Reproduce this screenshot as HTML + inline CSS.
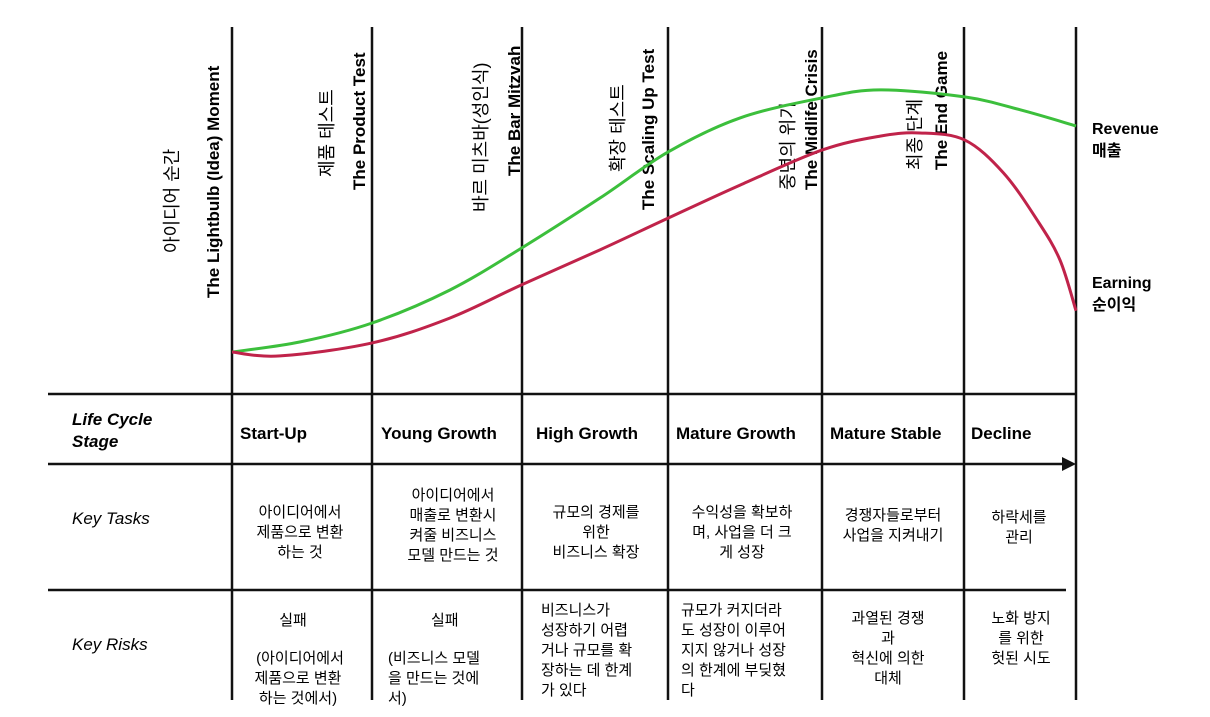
<!DOCTYPE html>
<html><head><meta charset="utf-8">
<style>
body{margin:0;background:#fff;}
svg{display:block;font-family:"Liberation Sans","Noto Sans CJK KR",sans-serif;}
.en{font-weight:bold;font-size:17px;}
.ko{font-size:18px;}
.st{font-weight:bold;font-size:17px;}
.lab{font-style:italic;font-size:17px;}
.cell{font-size:15px;}
</style></head>
<body>
<svg id="chart" width="1210" height="717" viewBox="0 0 1210 717">
  <g id="grid" stroke="#111" stroke-width="2.5" fill="none">
    <line x1="232" y1="27" x2="232" y2="700"/>
    <line x1="372" y1="27" x2="372" y2="700"/>
    <line x1="522" y1="27" x2="522" y2="700"/>
    <line x1="668" y1="27" x2="668" y2="700"/>
    <line x1="822" y1="27" x2="822" y2="700"/>
    <line x1="964" y1="27" x2="964" y2="700"/>
    <line x1="1076" y1="27" x2="1076" y2="700"/>
    <line x1="48" y1="394" x2="1076" y2="394"/>
    <line x1="48" y1="464" x2="1064" y2="464"/>
    <line x1="48" y1="590" x2="1066" y2="590"/>
  </g>
  <polygon points="1062,457 1076,464 1062,471" fill="#111"/>

  <g>
    <text class="ko" transform="translate(178,253) rotate(-90)">아이디어 순간</text>
    <text class="en" transform="translate(219,298) rotate(-90)">The Lightbulb (Idea) Moment</text>
    <text class="ko" transform="translate(333,177) rotate(-90)">제품 테스트</text>
    <text class="en" transform="translate(365,190) rotate(-90)">The Product Test</text>
    <text class="ko" transform="translate(487,212) rotate(-90)">바르 미츠바(성인식)</text>
    <text class="en" transform="translate(520,176) rotate(-90)">The Bar Mitzvah</text>
    <text class="ko" transform="translate(624,172) rotate(-90)">확장 테스트</text>
    <text class="en" transform="translate(654,210) rotate(-90)">The Scaling Up Test</text>
    <text class="ko" transform="translate(794,190) rotate(-90)">중년의 위기</text>
    <text class="en" transform="translate(817,190) rotate(-90)">The Midlife Crisis</text>
    <text class="ko" transform="translate(921,170) rotate(-90)">최종 단계</text>
    <text class="en" transform="translate(947,170) rotate(-90)">The End Game</text>
  </g>

  <g id="series"></g>

  <g font-weight="bold" font-size="16">
    <text x="1092" y="134">Revenue</text>
    <text x="1092" y="156">매출</text>
    <text x="1092" y="288">Earning</text>
    <text x="1092" y="310">순이익</text>
  </g>

  <g>
    <text class="lab" font-weight="bold" x="72" y="425">Life Cycle</text>
    <text class="lab" font-weight="bold" x="72" y="447">Stage</text>
    <text class="lab" x="72" y="524">Key Tasks</text>
    <text class="lab" x="72" y="650">Key Risks</text>
  </g>

  <g>
    <text class="st" x="240" y="439">Start-Up</text>
    <text class="st" x="381" y="439">Young Growth</text>
    <text class="st" x="536" y="439">High Growth</text>
    <text class="st" x="676" y="439">Mature Growth</text>
    <text class="st" x="830" y="439">Mature Stable</text>
    <text class="st" x="971" y="439">Decline</text>
  </g>

  <g class="cell" text-anchor="middle">
    <text><tspan x="300" y="517">아이디어에서</tspan><tspan x="300" y="537">제품으로 변환</tspan><tspan x="300" y="557">하는 것</tspan></text>
    <text><tspan x="453" y="500">아이디어에서</tspan><tspan x="453" y="520">매출로 변환시</tspan><tspan x="453" y="540">켜줄 비즈니스</tspan><tspan x="453" y="560">모델 만드는 것</tspan></text>
    <text><tspan x="596" y="517">규모의 경제를</tspan><tspan x="596" y="537">위한</tspan><tspan x="596" y="557">비즈니스 확장</tspan></text>
    <text><tspan x="742" y="517">수익성을 확보하</tspan><tspan x="742" y="537">며, 사업을 더 크</tspan><tspan x="742" y="557">게 성장</tspan></text>
    <text><tspan x="893" y="520">경쟁자들로부터</tspan><tspan x="893" y="540">사업을 지켜내기</tspan></text>
    <text><tspan x="1019" y="522">하락세를</tspan><tspan x="1019" y="542">관리</tspan></text>
  </g>

  <g class="cell">
    <text text-anchor="middle"><tspan x="293" y="625">실패</tspan><tspan x="300" y="663">(아이디어에서</tspan><tspan x="298" y="683">제품으로 변환</tspan><tspan x="298" y="703">하는 것에서)</tspan></text>
    <text><tspan x="431" y="625">실패</tspan><tspan x="388" y="663">(비즈니스 모델</tspan><tspan x="388" y="683">을 만드는 것에</tspan><tspan x="388" y="703">서)</tspan></text>
    <text><tspan x="541" y="615">비즈니스가</tspan><tspan x="541" y="635">성장하기 어렵</tspan><tspan x="541" y="655">거나 규모를 확</tspan><tspan x="541" y="675">장하는 데 한계</tspan><tspan x="541" y="695">가 있다</tspan></text>
    <text><tspan x="681" y="615">규모가 커지더라</tspan><tspan x="681" y="635">도 성장이 이루어</tspan><tspan x="681" y="655">지지 않거나 성장</tspan><tspan x="681" y="675">의 한계에 부딪혔</tspan><tspan x="681" y="695">다</tspan></text>
    <text text-anchor="middle"><tspan x="888" y="623">과열된 경쟁</tspan><tspan x="888" y="643">과</tspan><tspan x="888" y="663">혁신에 의한</tspan><tspan x="888" y="683">대체</tspan></text>
    <text text-anchor="middle"><tspan x="1021" y="623">노화 방지</tspan><tspan x="1021" y="643">를 위한</tspan><tspan x="1021" y="663">헛된 시도</tspan></text>
  </g>
</svg>
<script>
const revenueTime = [0, 8.1, 16.6, 25.8, 34.3, 43.6, 51.7, 60.2, 69.9, 76.8, 86.8, 93.4, 100];
const revenueValues = [13.7, 16.6, 22, 31.4, 43.4, 57.7, 70.9, 80.6, 86.3, 88.6, 86.6, 82.9, 78.3];
const earningTime = [0, 5.7, 16.6, 25.8, 34.3, 43.6, 51.7, 60.2, 69.9, 76.8, 81.5, 86.8, 91.4, 95.4, 98.1, 100];
const earningValues = [13.7, 12.6, 16.3, 23.4, 32.9, 42.9, 52, 61.4, 71.4, 75.4, 76.3, 74.3, 64.9, 51.4, 40, 25.5];

function xScale(t){ return 232 + t * (1076 - 232) / 100; }
function yScale(v){ return 400 - v * 3.5; }

function smoothPath(ts, vs){
  const p = ts.map((t,i)=>[xScale(t), yScale(vs[i])]);
  let d = 'M' + p[0][0] + ',' + p[0][1];
  for(let i=0;i<p.length-1;i++){
    const p0=p[Math.max(0,i-1)], p1=p[i], p2=p[i+1], p3=p[Math.min(p.length-1,i+2)];
    const c1x=p1[0]+(p2[0]-p0[0])/6, c1y=p1[1]+(p2[1]-p0[1])/6;
    const c2x=p2[0]-(p3[0]-p1[0])/6, c2y=p2[1]-(p3[1]-p1[1])/6;
    d += ' C'+c1x+','+c1y+' '+c2x+','+c2y+' '+p2[0]+','+p2[1];
  }
  return d;
}
const g = document.getElementById('series');
const ns = 'http://www.w3.org/2000/svg';
const rev = document.createElementNS(ns,'path');
rev.setAttribute('d', smoothPath(revenueTime, revenueValues));
rev.setAttribute('stroke','#3cbf3c');
rev.setAttribute('stroke-width','3');
rev.setAttribute('fill','none');


g.appendChild(rev);
const ear = document.createElementNS(ns,'path');
ear.setAttribute('d', smoothPath(earningTime, earningValues));
ear.setAttribute('stroke','#c0234a');
ear.setAttribute('stroke-width','3');
ear.setAttribute('fill','none');


g.appendChild(ear);
</script>
</body></html>
